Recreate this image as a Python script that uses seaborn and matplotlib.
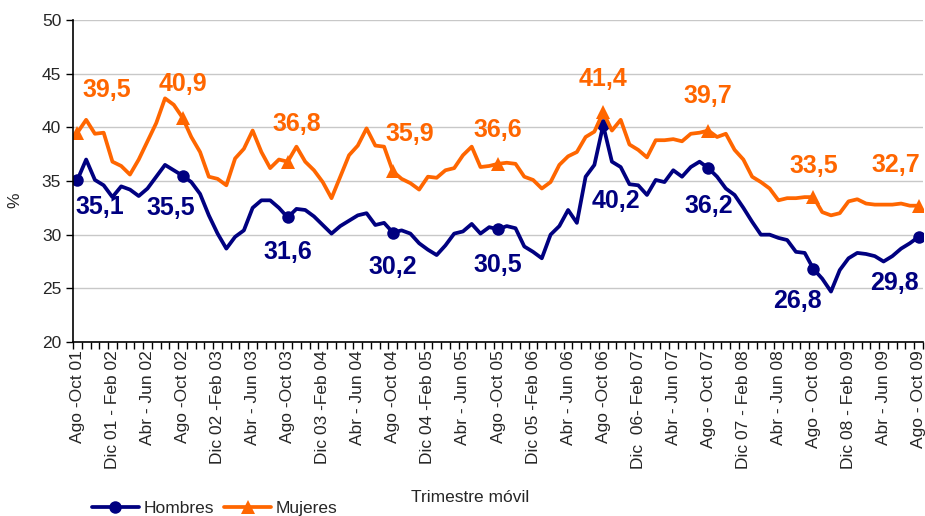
import numpy as np
import pandas as pd
import matplotlib
matplotlib.use("Agg")
import matplotlib.pyplot as plt
import seaborn as sns

# tasa (%) por trimestre movil, ago-oct 2001 a ago-oct 2009
tick_labels = [
    "Ago -Oct 01", "Dic 01 - Feb 02", "Abr - Jun 02", "Ago -Oct 02",
    "Dic 02 -Feb 03", "Abr - Jun 03", "Ago -Oct 03", "Dic 03 -Feb 04",
    "Abr - Jun 04", "Ago -Oct 04", "Dic 04 -Feb 05", "Abr - Jun 05",
    "Ago -Oct 05", "Dic 05 -Feb 06", "Abr - Jun 06", "Ago -Oct 06",
    "Dic  06- Feb 07", "Abr - Jun 07", "Ago - Oct 07", "Dic 07 - Feb 08",
    "Abr - Jun 08", "Ago - Oct 08", "Dic 08 - Feb 09", "Abr - Jun 09",
    "Ago - Oct 09",
]

hombres = [
    35.1, 37.0, 35.1, 34.6, 33.5, 34.5, 34.2, 33.6, 34.3, 35.4, 36.5, 36.0,
    35.5, 34.9, 33.8, 31.8, 30.1, 28.7, 29.8, 30.4, 32.5, 33.2, 33.2, 32.5,
    31.6, 32.4, 32.3, 31.7, 30.9, 30.1, 30.8, 31.3, 31.8, 32.0, 30.9, 31.1,
    30.2, 30.4, 30.1, 29.2, 28.6, 28.1, 29.0, 30.1, 30.3, 31.0, 30.1, 30.7,
    30.5, 30.8, 30.6, 28.9, 28.4, 27.8, 30.0, 30.8, 32.3, 31.1, 35.4, 36.5,
    40.2, 36.8, 36.3, 34.7, 34.6, 33.7, 35.1, 34.9, 36.0, 35.4, 36.3, 36.8,
    36.2, 35.4, 34.3, 33.7, 32.5, 31.2, 30.0, 30.0, 29.7, 29.5, 28.4, 28.3,
    26.8, 25.9, 24.7, 26.7, 27.8, 28.3, 28.2, 28.0, 27.5, 28.0, 28.7, 29.2,
    29.8,
]

mujeres = [
    39.5, 40.7, 39.4, 39.5, 36.8, 36.4, 35.6, 37.0, 38.7, 40.4, 42.7, 42.1,
    40.9, 39.1, 37.7, 35.4, 35.2, 34.6, 37.1, 38.0, 39.7, 37.7, 36.2, 37.0,
    36.8, 38.2, 36.8, 36.0, 34.9, 33.4, 35.4, 37.4, 38.3, 39.9, 38.3, 38.2,
    35.9, 35.2, 34.8, 34.2, 35.4, 35.3, 36.0, 36.2, 37.4, 38.2, 36.3, 36.4,
    36.6, 36.7, 36.6, 35.4, 35.1, 34.3, 34.9, 36.5, 37.3, 37.7, 39.1, 39.6,
    41.4, 39.7, 40.7, 38.4, 37.9, 37.2, 38.8, 38.8, 38.9, 38.7, 39.4, 39.5,
    39.7, 39.1, 39.4, 37.9, 37.0, 35.4, 34.9, 34.3, 33.2, 33.4, 33.4, 33.5,
    33.5, 32.1, 31.8, 32.0, 33.1, 33.3, 32.9, 32.8, 32.8, 32.8, 32.9, 32.7,
    32.7,
]

# where the value labels sit relative to each yearly marker (pixels)
h_offsets = [(22, -27), (-12, -32), (0, -35), (0, -34), (0, -36),
             (13, -76), (0, -38), (-16, -32), (-24, -46)]
m_offsets = [(29, 43), (0, 34), (9, 38), (17, 37), (0, 34),
             (0, 33), (0, 35), (0, 31), (-23, 41)]

navy = "#000080"
orange = "#FF6600"

df = pd.DataFrame({"idx": np.arange(len(hombres)),
                   "Hombres": hombres, "Mujeres": mujeres})

sns.set_theme(style="white")
plt.rcParams["font.family"] = ["Liberation Sans", "DejaVu Sans"]

fig = plt.figure(figsize=(9.25, 5.16), dpi=100)
ax = fig.add_axes([73 / 925, 174 / 516, 850 / 925, 322 / 516])

sns.lineplot(data=df, x="idx", y="Hombres", ax=ax, color=navy, lw=2.7,
             marker="o", markersize=9, markevery=12, markeredgewidth=0,
             label="Hombres", legend=False, solid_joinstyle="round")
sns.lineplot(data=df, x="idx", y="Mujeres", ax=ax, color=orange, lw=2.7,
             marker="^", markersize=10, markevery=12, markeredgewidth=0,
             label="Mujeres", legend=False, solid_joinstyle="round")

mark_idx = list(range(0, len(hombres), 12))
for k, i in enumerate(mark_idx):
    ax.annotate(f"{hombres[i]:.1f}".replace(".", ","), (i, hombres[i]),
                xytext=h_offsets[k], textcoords="offset pixels",
                ha="center", va="center", fontsize=18, fontweight="bold",
                color=navy, annotation_clip=False)
    ax.annotate(f"{mujeres[i]:.1f}".replace(".", ","), (i, mujeres[i]),
                xytext=m_offsets[k], textcoords="offset pixels",
                ha="center", va="center", fontsize=18, fontweight="bold",
                color=orange, annotation_clip=False)

ax.set_xlim(-0.5, len(hombres) - 0.5)
ax.set_ylim(20, 50)
ax.set_yticks(range(20, 51, 5))
ax.yaxis.grid(True, color="#c8c8c8", lw=1)
ax.set_axisbelow(True)

ax.set_xticks(np.arange(0, len(hombres), 4))
ax.set_xticklabels(tick_labels, rotation=90, fontsize=12.5)
ax.set_xticks(np.arange(-0.5, len(hombres), 1), minor=True)
ax.tick_params(axis="x", which="major", length=0, pad=6)
ax.tick_params(axis="x", which="minor", length=5, width=1, color="black", direction="out", bottom=True)
ax.tick_params(axis="y", length=5, width=1, color="black", direction="out", left=True, labelsize=12.5)

for side in ["top", "right"]:
    ax.spines[side].set_visible(False)
for side in ["left", "bottom"]:
    ax.spines[side].set_color("black")
    ax.spines[side].set_linewidth(1.2)

ax.set_xlabel("")
ax.set_ylabel("")
fig.text(15 / 925, 1 - 200 / 516, "%", rotation=90, ha="center", va="center", fontsize=12.5)
fig.text(470 / 925, 1 - 498 / 516, "Trimestre móvil", ha="center", va="center", fontsize=12.5)

handles, labels = ax.get_legend_handles_labels()
fig.legend(handles, labels, loc="center left", bbox_to_anchor=(92 / 925, 1 - 508 / 516),
           ncol=2, frameon=False, fontsize=12.5, handlelength=2.7,
           handletextpad=0.25, columnspacing=0.6, borderaxespad=0, borderpad=0)

fig.savefig("out.png", dpi=100)
